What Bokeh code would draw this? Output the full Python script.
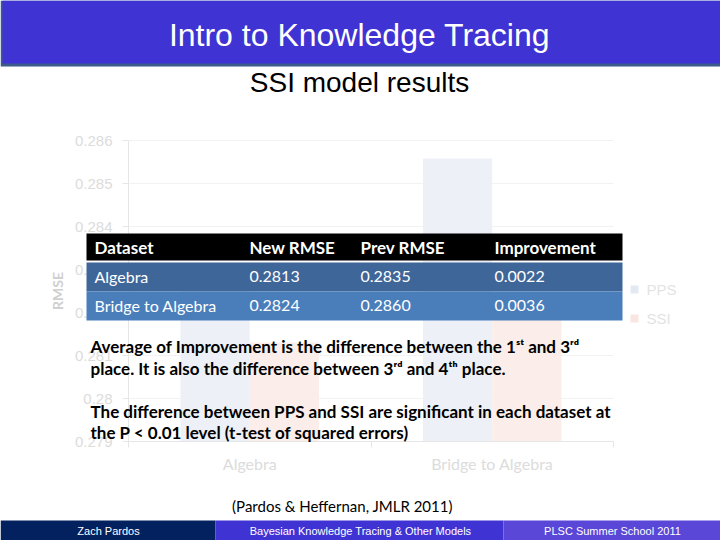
from bokeh.plotting import figure
from bokeh.layouts import column
from bokeh.models import (Range1d, ColumnDataSource, BoxAnnotation, Label, FixedTicker)
from bokeh.transform import dodge
from bokeh.embed import file_html
from bokeh.resources import INLINE

# ---------------- data ----------------
categories = ["Algebra", "Bridge to Algebra"]
series = ["PPS", "SSI"]
pps_rmse = [0.2830, 0.28558]
ssi_rmse = [0.2813, 0.2824]
y_ticks = [0.279, 0.280, 0.281, 0.282, 0.283, 0.284, 0.285, 0.286]
y_tick_labels = ["0.279", "0.28", "0.281", "0.282", "0.283", "0.284", "0.285", "0.286"]

table_header = ["Dataset", "New RMSE", "Prev RMSE", "Improvement"]
table_datasets = ["Algebra", "Bridge to Algebra"]
table_new = ["0.2813", "0.2824"]
table_prev = ["0.2835", "0.2860"]
table_impr = ["0.0022", "0.0036"]

slide_title = "Intro to Knowledge Tracing"
slide_subtitle = "SSI model results"
note_lines = [
    "Average of Improvement is the difference between the 1\u02e2\u1d57 and 3\u02b3\u1d48",
    "place. It is also the difference between 3\u02b3\u1d48 and 4\u1d57\u02b0 place.",
    "The difference between PPS and SSI are significant in each dataset at",
    "the P < 0.01 level (t-test of squared errors)",
]
citation = "(Pardos & Heffernan, JMLR 2011)"
footer = ["Zach Pardos", "Bayesian Knowledge Tracing & Other Models", "PLSC Summer School 2011"]

# ---------------- layout constants (slide pixels) ----------------
W = 720
HEAD_H = 100          # header strip: y 0..100
MID_TOP, MID_BOT = 100, 490
FOOT_TOP, FOOT_BOT = 490, 540
PLOT_L, PLOT_R, PLOT_T, PLOT_B = 128, 613, 140, 441
n_cat = len(categories)
CAT_PX = (PLOT_R - PLOT_L) / n_cat
PX_PER_UNIT = (PLOT_B - PLOT_T) / (y_ticks[-1] - y_ticks[0])


def strip_fig(h, y0):
    f = figure(width=W, height=h, x_range=Range1d(0, W), y_range=Range1d(y0 + h, y0),
               min_border=0, x_axis_location=None, y_axis_location=None,
               output_backend="svg", toolbar_location=None, title=None)
    f.outline_line_color = None
    f.grid.visible = False
    f.background_fill_color = "white"
    f.border_fill_color = "white"
    return f


def box(f, l, r, t, b, color, units="data"):
    f.add_layout(BoxAnnotation(left=l, right=r, top=t, bottom=b,
                               left_units=units, right_units=units,
                               top_units=units, bottom_units=units,
                               fill_color=color, fill_alpha=1.0, line_color=None))


def txt(f, x, y, s, size, color, bold=False, align="left", font="Lato", units="data"):
    f.add_layout(Label(x=x, y=y, text=s, x_units=units, y_units=units,
                       text_font=font, text_font_size=f"{size}px",
                       text_font_style="bold" if bold else "normal",
                       text_color=color, text_align=align, text_baseline="middle"))


# ---------------- header ----------------
hf = strip_fig(HEAD_H, 0)
box(hf, 0, W, 0, 66, "#3b5b8b")
box(hf, 2, W, 0, 63, "#4033d4")
txt(hf, 359, 34, slide_title, 32, "white", font="Liberation Sans", align="center")
txt(hf, 359, 82, slide_subtitle, 28, "black", font="Liberation Sans", align="center")

# ---------------- chart ----------------
mid_h = MID_BOT - MID_TOP
y_top = y_ticks[0] + (PLOT_B - MID_TOP) / PX_PER_UNIT
y_bot = y_ticks[0] - (MID_BOT - PLOT_B) / PX_PER_UNIT
x_left = -PLOT_L / CAT_PX
x_right = n_cat + (W - PLOT_R) / CAT_PX

p = figure(x_range=Range1d(x_left, x_right), y_range=Range1d(y_bot, y_top),
           width=W, height=mid_h, min_border=0,
           output_backend="svg", toolbar_location=None, title=None)
p.outline_line_color = None
p.background_fill_color = "white"
p.border_fill_color = "white"
p.grid.visible = False

# gridlines across the plot area only
grid_src = ColumnDataSource(dict(y=y_ticks))
p.segment(x0=0, x1=n_cat, y0="y", y1="y", source=grid_src,
          line_color="#f2f2f2", line_width=1)

cat_pos = [i + 0.5 for i in range(n_cat)]   # category centres on the axis
src = ColumnDataSource(dict(pos=cat_pos, pps=pps_rmse, ssi=ssi_rmse))
bw = 1 / 3.5
r_pps = p.vbar(x=dodge("pos", -bw / 2), top="pps", bottom=y_ticks[0],
               width=bw, source=src, fill_color="#edf1f7", line_color=None)
r_ssi = p.vbar(x=dodge("pos", bw / 2), top="ssi", bottom=y_ticks[0],
               width=bw, source=src, fill_color="#fbeeea", line_color=None)

axis_col = "#e6e6e6"
lab_col = "#dcdcdc"
p.yaxis.fixed_location = 0
p.yaxis.bounds = (y_ticks[0], y_ticks[-1])
p.yaxis.ticker = FixedTicker(ticks=y_ticks)
p.yaxis.major_label_overrides = {t: l for t, l in zip(y_ticks, y_tick_labels)}
p.yaxis.axis_line_color = axis_col
p.yaxis.major_tick_line_color = axis_col
p.yaxis.major_tick_out = 6
p.yaxis.major_tick_in = 0
p.yaxis.minor_tick_line_color = None
p.yaxis.major_label_standoff = 10
p.yaxis.major_label_text_font = "Liberation Sans"
p.yaxis.major_label_text_font_size = "15px"
p.yaxis.major_label_text_color = lab_col
p.yaxis.axis_label = "RMSE"
p.yaxis.axis_label_text_font = "Lato"
p.yaxis.axis_label_text_font_style = "bold"
p.yaxis.axis_label_text_font_size = "14px"
p.yaxis.axis_label_text_color = "#d0d0d0"
p.yaxis.axis_label_standoff = 6

p.xaxis.fixed_location = y_ticks[0]
p.xaxis.bounds = (0, n_cat)
p.xaxis.ticker = FixedTicker(ticks=cat_pos, minor_ticks=list(range(n_cat + 1)))
p.xaxis.major_label_overrides = {c: name for c, name in zip(cat_pos, categories)}
p.xaxis.axis_line_color = axis_col
p.xaxis.major_tick_line_color = None
p.xaxis.minor_tick_line_color = axis_col
p.xaxis.minor_tick_out = 6
p.xaxis.minor_tick_in = 0
p.xaxis.major_label_standoff = 6
p.xaxis.major_label_text_font = "Lato"
p.xaxis.major_label_text_font_size = "16px"
p.xaxis.major_label_text_color = lab_col

C = "canvas"
# legend (swatches + labels beside the plot)
leg_colors = ["#e3e9f3", "#f8e6e0"]
for i, (name, col) in enumerate(zip(series, leg_colors)):
    ly = 289 + 29 * i - MID_TOP
    box(p, 630, 638, ly - 4, ly + 4, col, units=C)
    txt(p, 646, ly, name, 15, "#e3e3e3", font="Liberation Sans", units=C)

# table
box(p, 86, 622, 233 - MID_TOP, 260 - MID_TOP, "black", units=C)
box(p, 86, 622, 262 - MID_TOP, 291 - MID_TOP, "#3f6699", units=C)
box(p, 86, 622, 291 - MID_TOP, 320 - MID_TOP, "#4a7ebb", units=C)
col_x = [94, 249, 360, 494]
for cx, h in zip(col_x, table_header):
    txt(p, cx, 247 - MID_TOP, h, 17, "white", bold=True, units=C)
rows = list(zip(table_datasets, table_new, table_prev, table_impr))
for ry, row in zip([276, 305], rows):
    for cx, v in zip(col_x, row):
        txt(p, cx, ry - MID_TOP, v, 16, "white", units=C)

# notes
for ny, line in zip([346, 368, 411, 432], note_lines):
    txt(p, 90, ny - MID_TOP, line, 17, "black", bold=True, units=C)

# ---------------- footer ----------------
ff = strip_fig(FOOT_BOT - FOOT_TOP, FOOT_TOP)
txt(ff, 342, 505, citation, 15, "black", align="center")
box(ff, 0, 215, 520, 540, "#03215f")
box(ff, 215, 503, 520, 540, "#4033d4")
box(ff, 503, W, 520, 540, "#5a46d7")
for fx, s in zip([108, 360, 612], footer):
    txt(ff, fx, 530, s, 11, "white", font="Liberation Sans", align="center")

layout = column(hf, p, ff, spacing=0)
open("out.html", "w").write(file_html(layout, INLINE))
